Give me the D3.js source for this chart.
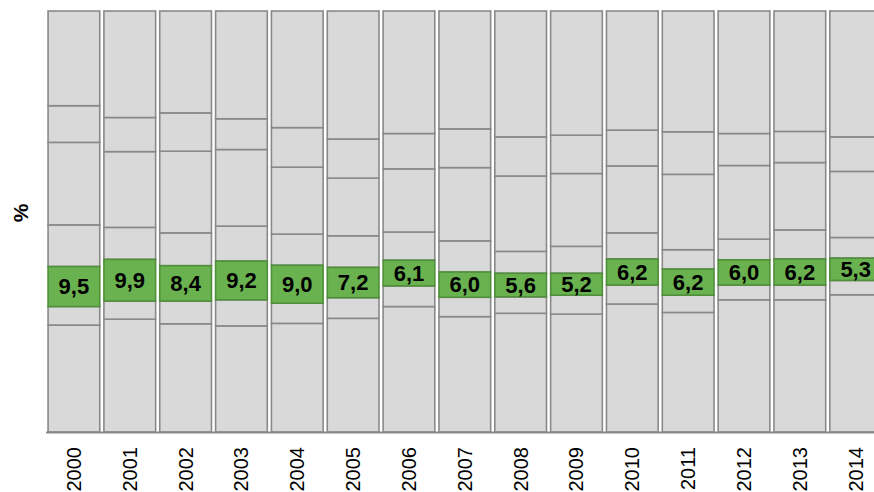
<!DOCTYPE html>
<html>
<head>
<meta charset="utf-8">
<script src="https://cdn.jsdelivr.net/npm/d3@7"></script>
<style>
  html, body { margin: 0; padding: 0; background: #ffffff; }
  svg { display: block; }
</style>
</head>
<body>
<div id="chart"></div>
<script>
// ---- Data (percent shares, stacked bottom -> top) ----
const years = ["2000","2001","2002","2003","2004","2005","2006","2007","2008","2009","2010","2011","2012","2013","2014"];
const seg1  = [25.4, 26.8, 25.7, 25.2, 25.8, 27.0, 29.8, 27.4, 28.2, 28.0, 30.4, 28.4, 31.4, 31.4, 32.6];
const seg2  = [ 4.4,  4.3,  5.4,  6.2,  4.8,  4.9,  4.9,  4.6,  3.9,  4.5,  4.5,  4.1,  3.5,  3.5,  3.4];
const green = [ 9.5,  9.9,  8.4,  9.2,  9.0,  7.2,  6.1,  6.0,  5.6,  5.2,  6.2,  6.2,  6.0,  6.2,  5.3];
const seg4  = [ 9.9,  7.6,  7.8,  8.3,  7.4,  7.5,  6.7,  7.4,  5.2,  6.4,  6.2,  4.6,  4.9,  6.9,  4.9];
const seg5  = [19.6, 18.0, 19.4, 18.2, 15.9, 13.7, 15.0, 17.4, 17.9, 17.3, 15.9, 17.9, 17.5, 16.0, 15.7];
const seg6  = [ 8.7,  8.1,  9.1,  7.3,  9.4,  9.3,  8.4,  9.2,  9.3,  9.1,  8.5, 10.1,  7.6,  7.4,  8.2];
const greenLabels = ["9,5","9,9","8,4","9,2","9,0","7,2","6,1","6,0","5,6","5,2","6,2","6,2","6,0","6,2","5,3"];
const yAxisTitle = "%";

// top segment fills the remainder up to 100 %
const seg7 = years.map((_, i) => +(100 - seg1[i] - seg2[i] - green[i] - seg4[i] - seg5[i] - seg6[i]).toFixed(1));

const keys = ["s1","s2","green","s4","s5","s6","s7"];
const table = years.map((y, i) => ({
  year: y, s1: seg1[i], s2: seg2[i], green: green[i], s4: seg4[i], s5: seg5[i], s6: seg6[i], s7: seg7[i]
}));

// ---- Layout ----
const W = 874, H = 492;
const svg = d3.select("#chart").append("svg").attr("width", W).attr("height", H);

const step = 55.84;
const x = d3.scaleBand()
  .domain(years)
  .range([46, 46 + step * years.length])
  .paddingInner(0.074)
  .paddingOuter(0.037);

const y = d3.scaleLinear().domain([0, 100]).range([432, 11]);

const stacked = d3.stack().keys(keys)(table);

const gray = "#d9d9d9", grayStroke = "#898989";
const greenFill = "#6ab150", greenStroke = "#4f8f3a";

// draw gray series first, green last so its border stays on top
const order = stacked.filter(s => s.key !== "green").concat(stacked.filter(s => s.key === "green"));

order.forEach(series => {
  const isGreen = series.key === "green";
  svg.append("g")
    .selectAll("rect")
    .data(series)
    .join("rect")
      .attr("x", d => x(d.data.year))
      .attr("width", x.bandwidth())
      .attr("y", d => y(d[1]))
      .attr("height", d => y(d[0]) - y(d[1]))
      .attr("fill", isGreen ? greenFill : gray)
      .attr("stroke", isGreen ? greenStroke : grayStroke)
      .attr("stroke-width", 1.6);
});

// green labels
const greenSeries = stacked.find(s => s.key === "green");
svg.append("g")
  .selectAll("text")
  .data(greenSeries)
  .join("text")
    .attr("x", d => x(d.data.year) + x.bandwidth() / 2)
    .attr("y", (d) => (y(d[0]) + y(d[1])) / 2)
    .attr("text-anchor", "middle")
    .attr("dominant-baseline", "central")
    .attr("font-family", "Liberation Sans, Arial, sans-serif")
    .attr("font-weight", "bold")
    .attr("font-size", 22)
    .attr("fill", "#000")
    .text((d, i) => greenLabels[i]);

// x axis
const xAxis = d3.axisBottom(x).tickSize(0).tickPadding(0);
const gx = svg.append("g").attr("transform", `translate(0,${y(0)})`).call(xAxis);
gx.select(".domain")
  .attr("d", `M46,0.5H${W + 20}`)
  .attr("stroke", grayStroke)
  .attr("stroke-width", 2);
gx.selectAll(".tick text")
  .attr("font-family", "Liberation Sans, Arial, sans-serif")
  .attr("font-size", 20)
  .attr("fill", "#000")
  .attr("text-anchor", "end")
  .attr("dy", null)
  .attr("dominant-baseline", "central")
  .attr("transform", "translate(0,15) rotate(-90)")
  .attr("y", 0)
  .attr("x", 0);

// y axis title
svg.append("text")
  .attr("transform", "translate(20,213) rotate(-90)")
  .attr("text-anchor", "middle")
  .attr("dominant-baseline", "central")
  .attr("font-family", "Liberation Sans, Arial, sans-serif")
  .attr("font-weight", "bold")
  .attr("font-size", 21)
  .attr("fill", "#000")
  .text(yAxisTitle);
</script>
</body>
</html>
